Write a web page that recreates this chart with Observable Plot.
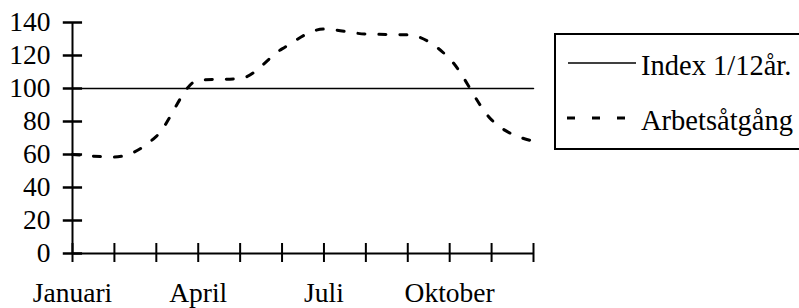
<!DOCTYPE html>
<html>
<head>
<meta charset="utf-8">
<script src="https://cdn.jsdelivr.net/npm/d3@7"></script>
<script src="https://cdn.jsdelivr.net/npm/@observablehq/plot@0.6"></script>
<style>
  html, body { margin: 0; padding: 0; background: white; overflow: hidden; }
  #wrap { position: relative; width: 799px; height: 308px; overflow: hidden; }
  #legend { position: absolute; left: 554px; top: 33px; width: 270px; height: 113px; border: 2px solid black; background: white; }
</style>
</head>
<body>
<div id="wrap">
  <div id="chart"></div>
  <div id="legend">
    <svg width="270" height="113" style="font-family:'Liberation Serif',serif;font-size:28.5px">
      <line x1="12" x2="80" y1="28" y2="28" stroke="black" stroke-width="1.5"></line>
      <text x="85" y="40" fill="black">Index 1/12år.</text>
      <line x1="11" x2="72" y1="83" y2="83" stroke="black" stroke-width="3" stroke-dasharray="8,17"></line>
      <text x="85" y="95" fill="black">Arbetsåtgång</text>
    </svg>
  </div>
</div>
<script>
const monthLabels = ["Januari","Februari","Mars","April","Maj","Juni","Juli","Augusti","September","Oktober","November","December"];
const monthIdx = [0,1,2,3,4,5,6,7,8,9,10,11];
const labeledMonths = [0,3,6,9];
const arbetsatgang = [60, 58.5, 71, 105, 106, 124, 136, 133, 132.5, 118, 81, 68];
const indexValues = [100,100,100,100,100,100,100,100,100,100,100,100];
const yTicks = [0,20,40,60,80,100,120,140];

const rows = monthIdx.map((m, i) => ({m, arb: arbetsatgang[i], idx: indexValues[i]}));

const chart = Plot.plot({
  width: 799,
  height: 308,
  marginLeft: 72,
  marginRight: 266,
  marginTop: 22,
  marginBottom: 55,
  x: {domain: [0, 11]},
  y: {domain: [0, 140]},
  style: {fontFamily: "'Liberation Serif', serif", fontSize: "27.5px", background: "white", color: "black", overflow: "visible"},
  marks: [
    Plot.axisY({ticks: yTicks, tickSize: 0, tickPadding: 22, label: null}),
    Plot.axisX({ticks: labeledMonths, tickSize: 0, tickPadding: 29, tickFormat: i => monthLabels[i], label: null}),
    // crossing tick marks on both axes
    Plot.ruleY(yTicks, {y: d => d, x1: -0.22, x2: 0.24, stroke: "#000", strokeWidth: 2.5}),
    Plot.ruleX(monthIdx, {x: d => d, y1: 0, y2: 0, insetTop: -10, insetBottom: -9, stroke: "#000", strokeWidth: 2}),
    Plot.ruleX([0], {stroke: "black", strokeWidth: 2}),
    Plot.ruleY([0], {stroke: "black", strokeWidth: 2}),
    Plot.line(rows, {x: "m", y: "idx", stroke: "black", strokeWidth: 1.5}),
    Plot.line(rows, {x: "m", y: "arb", stroke: "black", strokeWidth: 3, strokeDasharray: "7,14", curve: "monotone-x"})
  ]
});
document.getElementById("chart").appendChild(chart);
</script>
</body>
</html>
